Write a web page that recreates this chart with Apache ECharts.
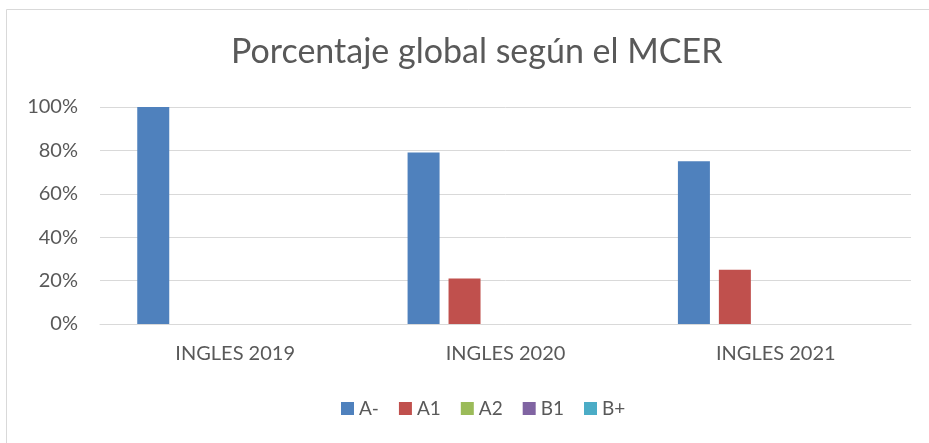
<!DOCTYPE html>
<html><head><meta charset="utf-8">
<script src="https://cdn.jsdelivr.net/npm/echarts@6/dist/echarts.min.js"></script>
<style>html,body{margin:0;padding:0;background:#fff}#c{width:929px;height:443px}</style>
</head><body><div id="c"></div>
<script>
const categories = ['INGLES 2019', 'INGLES 2020', 'INGLES 2021'];
const seriesNames = ['A-', 'A1', 'A2', 'B1', 'B+'];
const valsAminus = [100, 79, 75];
const valsA1 = [0, 21, 25];
const valsA2 = [0, 0, 0];
const valsB1 = [0, 0, 0];
const valsBplus = [0, 0, 0];
const yTicks = [0, 20, 40, 60, 80, 100];
const colors = ['#4f81bd', '#c0504d', '#9bbb59', '#8064a2', '#4bacc6'];
const allVals = [valsAminus, valsA1, valsA2, valsB1, valsBplus];
const FONT = 'Lato';
const chart = echarts.init(document.getElementById('c'), null, {renderer: 'canvas'});
chart.setOption({
  animation: false,
  backgroundColor: '#ffffff',
  color: colors,
  graphic: [{type: 'rect', shape: {x: 6.5, y: 9.5, width: 940, height: 450}, style: {fill: 'none', stroke: '#d9d9d9', lineWidth: 1}, z: -1}],
  title: {text: 'Porcentaje global según el MCER', left: 226, top: 30,
    textStyle: {fontFamily: FONT, fontSize: 34, fontWeight: 'normal', color: '#595959'}},
  grid: {left: 100, right: 18, top: 107, bottom: 119},
  legend: {data: seriesNames, bottom: 20, left: 336, itemWidth: 13, itemHeight: 13, itemGap: 20,
    icon: 'rect', textStyle: {fontFamily: FONT, fontSize: 19, color: '#595959'}},
  xAxis: {type: 'category', data: categories,
    axisLine: {lineStyle: {color: '#d9d9d9', width: 1}}, axisTick: {show: false},
    axisLabel: {fontFamily: FONT, fontSize: 20, color: '#595959', margin: 20}},
  yAxis: {type: 'value', min: yTicks[0], max: yTicks[yTicks.length - 1], interval: 20,
    axisLine: {show: false}, axisTick: {show: false},
    splitLine: {lineStyle: {color: '#d9d9d9', width: 1}},
    axisLabel: {fontFamily: FONT, fontSize: 20, color: '#595959', margin: 22, formatter: v => v + '%'}},
  series: seriesNames.map((n, i) => ({name: n, type: 'bar', data: allVals[i], barWidth: 32, barGap: '28%', itemStyle: {color: colors[i]}}))
});
</script></body></html>
